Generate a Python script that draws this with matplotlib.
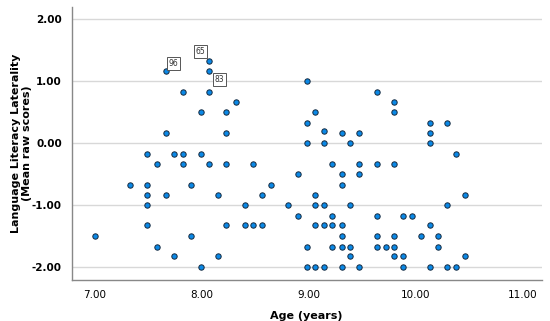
import numpy as np
import matplotlib
matplotlib.use("Agg")
import matplotlib.pyplot as plt

# age in years and mean raw laterality score per child
ages = [7.66, 8.07, 8.07, 7.82, 8.07, 8.32, 7.99, 8.23, 7.66, 8.23, 7.49, 7.74, 7.82, 7.99,
        8.98, 9.64, 9.80, 9.80, 9.06, 8.98, 9.14, 9.31, 9.47, 8.98, 9.14, 9.39, 10.13, 10.29,
        10.13, 10.13, 10.38,
        7.58, 7.82, 8.07, 8.23, 8.48, 7.33, 7.49, 7.90, 8.65, 7.49, 7.66, 8.15, 8.56, 7.49,
        8.40, 7.49, 8.23, 8.40, 8.48, 8.56, 7.00, 7.90, 7.58, 7.74, 8.15, 7.99,
        9.22, 9.47, 9.64, 9.80, 8.90, 9.31, 9.47, 9.31, 9.06, 10.46, 8.81, 9.06, 9.14, 9.39,
        10.29, 8.90, 9.22, 9.64, 9.88, 9.97, 9.06, 9.14, 9.22, 9.31, 10.13, 9.31, 9.64, 9.80,
        10.05, 10.21, 8.98, 9.22, 9.31, 9.39, 9.64, 9.72, 9.80, 10.21, 9.39, 9.80, 9.88, 10.46,
        8.98, 9.06, 9.14, 9.31, 9.47, 9.88, 10.13, 10.29, 10.38]
scores = [1.17, 1.33, 1.17, 0.83, 0.83, 0.67, 0.50, 0.50, 0.17, 0.17, -0.17, -0.17, -0.17, -0.17,
          1.00, 0.83, 0.67, 0.50, 0.50, 0.33, 0.20, 0.17, 0.17, 0.00, 0.00, 0.00, 0.33, 0.33,
          0.17, 0.00, -0.17,
          -0.33, -0.33, -0.33, -0.33, -0.33, -0.67, -0.67, -0.67, -0.67, -0.83, -0.83, -0.83, -0.83, -1.00,
          -1.00, -1.33, -1.33, -1.33, -1.33, -1.33, -1.50, -1.50, -1.67, -1.83, -1.83, -2.00,
          -0.33, -0.33, -0.33, -0.33, -0.50, -0.50, -0.50, -0.67, -0.83, -0.83, -1.00, -1.00, -1.00, -1.00,
          -1.00, -1.17, -1.17, -1.17, -1.17, -1.17, -1.33, -1.33, -1.33, -1.33, -1.33, -1.50, -1.50, -1.50,
          -1.50, -1.50, -1.67, -1.67, -1.67, -1.67, -1.67, -1.67, -1.67, -1.67, -1.83, -1.83, -1.83, -1.83,
          -2.00, -2.00, -2.00, -2.00, -2.00, -2.00, -2.00, -2.00, -2.00]

# case labels shown on the chart: label -> index of the point, offset of the box in pixels
case_labels = ["96", "65", "83"]
case_index = [0, 1, 2]
label_offsets = [(8, 7), (-9, 9), (10, -9)]

xticks = [7, 8, 9, 10, 11]
yticks = [-2, -1, 0, 1, 2]

fig = plt.figure(figsize=(5.5, 3.21), dpi=100)
ax = fig.add_axes([0.130, 0.128, 0.855, 0.85])

ax.scatter(ages, scores, s=15, color="#0a88e6", edgecolor="#152a40", linewidth=0.7, zorder=3)

for lab, i, off in zip(case_labels, case_index, label_offsets):
    ax.annotate(lab, (ages[i], scores[i]), xytext=off, textcoords="offset pixels",
                ha="center", va="center", fontsize=5.5, color="#333333", zorder=4,
                bbox=dict(boxstyle="square,pad=0.25", fc="white", ec="#555555", lw=0.7))

ax.set_xlim(6.78, 11.18)
ax.set_ylim(-2.21, 2.2)
ax.set_xticks(xticks)
ax.set_xticklabels([f"{t:.2f}" for t in xticks], fontsize=7.5)
ax.set_yticks(yticks)
ax.set_yticklabels([f"{t:.2f}" for t in yticks], fontsize=7.5, fontweight="bold")
ax.tick_params(length=0, pad=7)
ax.grid(axis="y", color="#d8d8d8", linewidth=1)
ax.set_axisbelow(True)

for side in ["top", "right"]:
    ax.spines[side].set_visible(False)
for side in ["left", "bottom"]:
    ax.spines[side].set_color("#888888")
    ax.spines[side].set_linewidth(1)

ax.set_xlabel("Age (years)", fontsize=8, fontweight="bold", labelpad=8)
ax.set_ylabel("Language Literacy Laterality\n(Mean raw scores)", fontsize=8,
              fontweight="bold", linespacing=1.15, labelpad=0)

fig.savefig("out.png", dpi=100)
